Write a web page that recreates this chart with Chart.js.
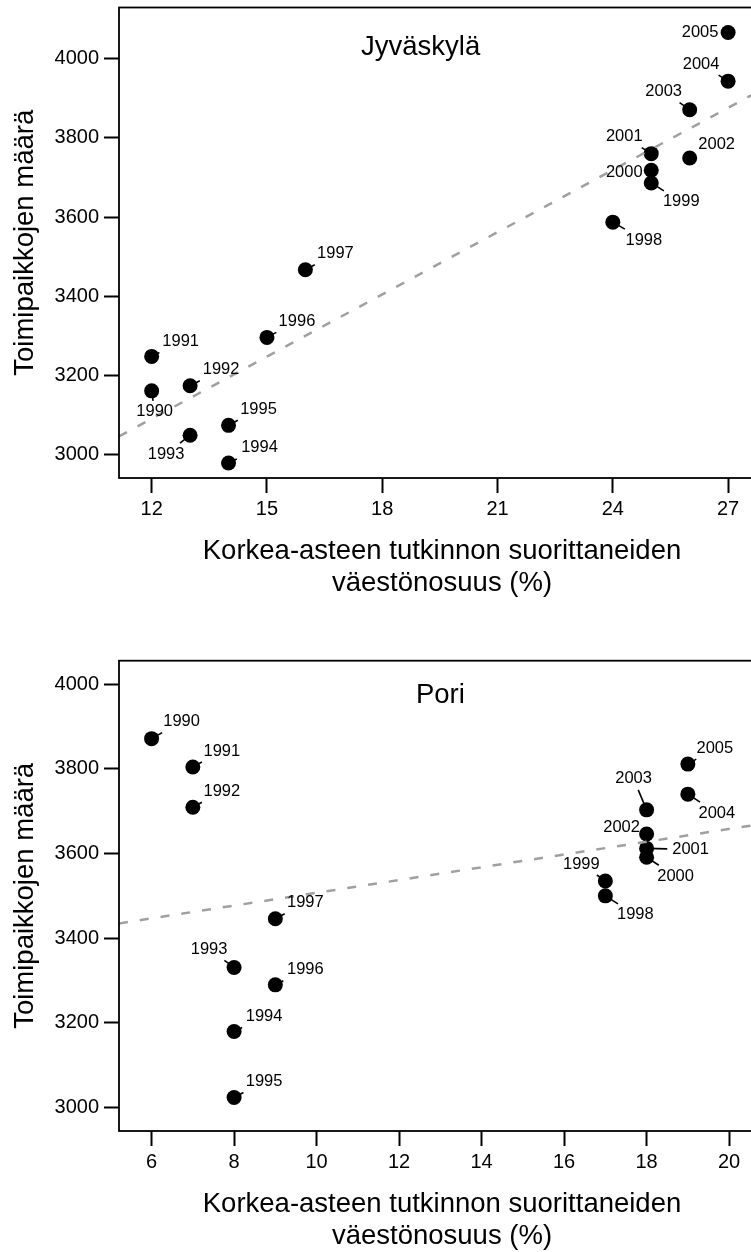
<!DOCTYPE html>
<html>
<head>
<meta charset="utf-8">
<script src="https://cdn.jsdelivr.net/npm/chart.js@4.4.1/dist/chart.umd.min.js"></script>
<style>
  html, body { margin: 0; padding: 0; background: #fff; }
  #wrap { position: relative; width: 751px; height: 1252px; overflow: hidden; }
  canvas { position: absolute; left: 0; }
</style>
</head>
<body>
<div id="wrap">
  <canvas id="jky" width="780" height="599" style="top:0;width:780px;height:599px"></canvas>
  <canvas id="pori" width="780" height="653" style="top:599px;width:780px;height:653px"></canvas>
</div>
<script>
const years = [1990, 1991, 1992, 1993, 1994, 1995, 1996, 1997,
               1998, 1999, 2000, 2001, 2002, 2003, 2004, 2005];

// Jyväskylä: share of population with tertiary degree (%) vs. number of establishments
const jkyShare = [12, 12, 13, 13, 14, 14, 15, 16, 24, 25, 25, 25, 26, 26, 27, 27];
const jkyCount = [3161, 3248, 3174, 3049, 2979, 3074, 3296, 3467,
                  3587, 3686, 3718, 3760, 3749, 3871, 3943, 4066];
const jkyTrendX = [11.15, 27.96];
const jkyTrendY = [3046, 3926];

// Pori
const poriShare = [6, 7, 7, 8, 8, 8, 9, 9, 17, 17, 18, 18, 18, 18, 19, 19];
const poriCount = [3871, 3804, 3709, 3331, 3180, 3024, 3290, 3446,
                   3500, 3535, 3591, 3612, 3646, 3703, 3740, 3811];
const poriTrendX = [5.21, 20.87];
const poriTrendY = [3435, 3671];

const jkyXTicks = [12, 15, 18, 21, 24, 27];
const poriXTicks = [6, 8, 10, 12, 14, 16, 18, 20];
const countTicks = [3000, 3200, 3400, 3600, 3800, 4000];

const xTitle = ['Korkea-asteen tutkinnon suorittaneiden', 'väestönosuus (%)'];
const yTitle = 'Toimipaikkojen määrä';

// where each year label sits, centre offset from its point in px
const jkyLabelPos = {
  1990: [3, 21], 1991: [29, -15], 1992: [31, -16], 1993: [-24, 19],
  1994: [31, -15], 1995: [30, -16], 1996: [30, -16], 1997: [30, -16],
  1998: [31, 18], 1999: [30, 19], 2000: [-27, 2], 2001: [-27, -17],
  2002: [27, -14], 2003: [-26, -18], 2004: [-27, -17], 2005: [-28, 0]
};
const poriLabelPos = {
  1990: [30, -17], 1991: [29, -16], 1992: [29, -16], 1993: [-25, -18],
  1994: [30, -15], 1995: [30, -16], 1996: [30, -15], 1997: [30, -16],
  1998: [30, 19], 1999: [-24, -17], 2000: [29, 19], 2001: [44, 1],
  2002: [-25, -7], 2003: [-13, -31], 2004: [29, 19], 2005: [27, -16]
};

const FONT = "'Liberation Sans', Arial, Helvetica, sans-serif";

// box around the plot area
const framePlugin = {
  id: 'frame',
  afterDatasetsDraw(chart) {
    const { ctx, chartArea: a } = chart;
    ctx.save();
    ctx.strokeStyle = '#000';
    ctx.lineWidth = 1.8;
    ctx.strokeRect(a.left, a.top, a.right - a.left, a.bottom - a.top);
    ctx.restore();
  }
};

// year next to every point, with a short leader line towards it
const yearLabels = {
  id: 'yearLabels',
  afterDatasetsDraw(chart, args, opts) {
    const { ctx } = chart;
    const pts = chart.getDatasetMeta(1).data;
    ctx.save();
    ctx.font = '16.5px ' + FONT;
    ctx.textAlign = 'center';
    ctx.textBaseline = 'middle';
    ctx.fillStyle = '#000';
    ctx.strokeStyle = '#000';
    ctx.lineWidth = 1.6;
    pts.forEach((p, i) => {
      const txt = String(years[i]);
      const [dx, dy] = opts.pos[years[i]];
      // stop the leader where it meets the (padded) label box
      const hw = ctx.measureText(txt).width / 2 + 5, hh = 11;
      const t = Math.max(1 - hw / Math.abs(dx), 1 - hh / Math.abs(dy));
      if (t > 0) {
        ctx.beginPath();
        ctx.moveTo(p.x, p.y);
        ctx.lineTo(p.x + dx * t, p.y + dy * t);
        ctx.stroke();
      }
      ctx.fillText(txt, p.x + dx, p.y + dy);
    });
    ctx.restore();
  }
};

const panelTitle = {
  id: 'panelTitle',
  afterDraw(chart, args, opts) {
    const { ctx, scales } = chart;
    ctx.save();
    ctx.font = '27.5px ' + FONT;
    ctx.textAlign = 'center';
    ctx.textBaseline = 'middle';
    ctx.fillStyle = '#000';
    ctx.fillText(opts.text, scales.x.getPixelForValue(opts.x), scales.y.getPixelForValue(opts.y));
    ctx.restore();
  }
};

function scatterPanel(id, o) {
  return new Chart(document.getElementById(id), {
    type: 'scatter',
    data: {
      datasets: [
        {
          type: 'line',
          data: o.trendX.map((x, i) => ({ x, y: o.trendY[i] })),
          borderColor: '#a0a0a0',
          borderWidth: 2.5,
          borderDash: [9, 12],
          pointRadius: 0,
          showLine: true,
          fill: false
        },
        {
          data: o.share.map((x, i) => ({ x, y: o.count[i] })),
          backgroundColor: '#000',
          borderColor: '#000',
          borderWidth: 0,
          pointRadius: 7.5,
          pointHoverRadius: 7.5
        }
      ]
    },
    options: {
      responsive: false,
      animation: false,
      events: [],
      layout: { padding: { top: o.padTop, right: 15, left: 0, bottom: 0 } },
      plugins: {
        legend: { display: false },
        tooltip: { enabled: false },
        yearLabels: { pos: o.labelPos },
        panelTitle: o.title
      },
      scales: {
        x: {
          type: 'linear',
          min: o.xMin, max: o.xMax,
          afterBuildTicks: s => { s.ticks = o.xTicks.map(v => ({ value: v })); },
          afterFit: s => { s.height = 121; s.paddingLeft = 0; s.paddingRight = 0; },
          border: { display: false },
          grid: { drawOnChartArea: false, tickLength: 15, tickWidth: 2, tickColor: '#000' },
          ticks: {
            color: '#000', font: { family: FONT, size: 20 }, padding: 4.5,
            maxRotation: 0, autoSkip: false, callback: v => String(v)
          },
          title: {
            display: true, text: xTitle, color: '#000',
            font: { family: FONT, size: 27.5, lineHeight: 1.15 },
            padding: { top: 0, bottom: 0 }
          }
        },
        y: {
          min: o.yMin, max: o.yMax,
          afterBuildTicks: s => { s.ticks = countTicks.map(v => ({ value: v })); },
          afterFit: s => { s.width = 119; s.paddingTop = 0; s.paddingBottom = 0; },
          border: { display: false },
          grid: { drawOnChartArea: false, tickLength: 15, tickWidth: 2, tickColor: '#000' },
          ticks: {
            color: '#000', font: { family: FONT, size: 20 }, padding: 5,
            autoSkip: false, callback: v => String(v)
          },
          title: {
            display: true, text: yTitle, color: '#000',
            font: { family: FONT, size: 27.5, lineHeight: 1.15 },
            padding: { top: 10, bottom: 0 }
          }
        }
      }
    },
    plugins: [framePlugin, yearLabels, panelTitle]
  });
}

scatterPanel('jky', {
  share: jkyShare, count: jkyCount, trendX: jkyTrendX, trendY: jkyTrendY,
  xTicks: jkyXTicks, xMin: 11.15, xMax: 27.96, yMin: 2941, yMax: 4129,
  padTop: 7.3, labelPos: jkyLabelPos,
  title: { text: 'Jyväskylä', x: 19, y: 4029 }
});

scatterPanel('pori', {
  share: poriShare, count: poriCount, trendX: poriTrendX, trendY: poriTrendY,
  xTicks: poriXTicks, xMin: 5.21, xMax: 20.87, yMin: 2945, yMax: 4055,
  padTop: 61.7, labelPos: poriLabelPos,
  title: { text: 'Pori', x: 13, y: 3972 }
});
</script>
</body>
</html>
